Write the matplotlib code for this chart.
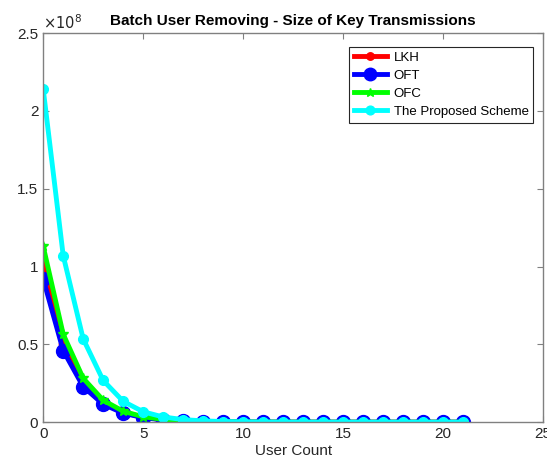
import matplotlib
matplotlib.use("Agg")
import matplotlib.pyplot as plt
from matplotlib.ticker import FuncFormatter

plt.rcParams['font.family'] = ['Liberation Sans', 'DejaVu Sans']

user_count = list(range(0, 22))
lkh = [1.01e8, 0.505e8, 0.252e8, 0.126e8, 0.063e8, 0.0315e8, 0.0158e8, 0.0079e8,
       0.0039e8, 0.002e8, 0.001e8, 0.0005e8, 0.00025e8, 0.00012e8, 0.00006e8, 0.00003e8,
       0.000015e8, 0.000008e8, 0.000004e8, 0.000002e8, 0.000001e8, 0.0000005e8]
oft = [0.92e8, 0.46e8, 0.228e8, 0.115e8, 0.058e8, 0.029e8, 0.0145e8, 0.0072e8,
       0.0036e8, 0.0018e8, 0.0009e8, 0.00045e8, 0.00023e8, 0.00011e8, 0.00006e8, 0.00003e8,
       0.000014e8, 0.000007e8, 0.0000035e8, 0.0000018e8, 0.0000009e8, 0.0000004e8]
ofc = [1.13e8, 0.565e8, 0.282e8, 0.141e8, 0.07e8, 0.035e8, 0.0176e8, 0.0088e8,
       0.0044e8, 0.0022e8, 0.0011e8, 0.00055e8, 0.00028e8, 0.00014e8, 0.00007e8, 0.000035e8,
       0.000017e8, 0.0000086e8, 0.0000043e8, 0.0000021e8, 0.000001e8, 0.0000005e8]
proposed = [2.14e8, 1.07e8, 0.535e8, 0.268e8, 0.134e8, 0.067e8, 0.0335e8, 0.0167e8,
            0.0084e8, 0.0042e8, 0.0021e8, 0.001e8, 0.0005e8, 0.00026e8, 0.00013e8, 0.00007e8,
            0.000033e8, 0.000016e8, 0.000008e8, 0.000004e8, 0.000002e8, 0.000001e8]

fig = plt.figure(figsize=(5.47, 4.66), dpi=100)
ax = fig.add_axes([0.079, 0.094, 0.914, 0.835])

ax.plot(user_count, lkh, color='#ff0000', lw=3.5, marker='o', ms=6, label='LKH')
ax.plot(user_count, oft, color='#0000ff', lw=3.5, marker='o', ms=10, label='OFT')
ax.plot(user_count, ofc, color='#00ff00', lw=3.5, marker='*', ms=7, label='OFC')
ax.plot(user_count, proposed, color='#00ffff', lw=3.5, marker='o', ms=7, label='The Proposed Scheme')

ax.set_xlim(0, 25)
ax.set_ylim(0, 2.5e8)
ax.set_xticks([0, 5, 10, 15, 20, 25])
ax.set_yticks([0, 0.5e8, 1e8, 1.5e8, 2e8, 2.5e8])
ax.yaxis.set_major_formatter(FuncFormatter(lambda v, p: '%g' % (v / 1e8)))

for s in ax.spines.values():
    s.set_color('#808080')
    s.set_linewidth(1.0)
ax.tick_params(direction='in', colors='#808080', labelcolor='#262626', labelsize=11,
               top=True, right=True, length=4)
ax.set_xlabel('User Count', fontsize=11, color='#262626', labelpad=2)
ax.set_title('Batch User Removing - Size of Key Transmissions', fontsize=11,
             fontweight='bold', pad=6)
ax.text(0.0, 1.003, r'$\times10^{8}$', transform=ax.transAxes, fontsize=10.5,
        color='#262626', ha='left', va='bottom')

leg = ax.legend(loc='upper right', bbox_to_anchor=(0.98, 0.965), fontsize=9.5,
                fancybox=False, framealpha=1, edgecolor='#262626',
                handlelength=2.5, handletextpad=0.5, borderpad=0.35,
                labelspacing=0.45, markerscale=0.9, borderaxespad=0)
leg.get_frame().set_linewidth(0.8)

fig.savefig('out.png', dpi=100)
